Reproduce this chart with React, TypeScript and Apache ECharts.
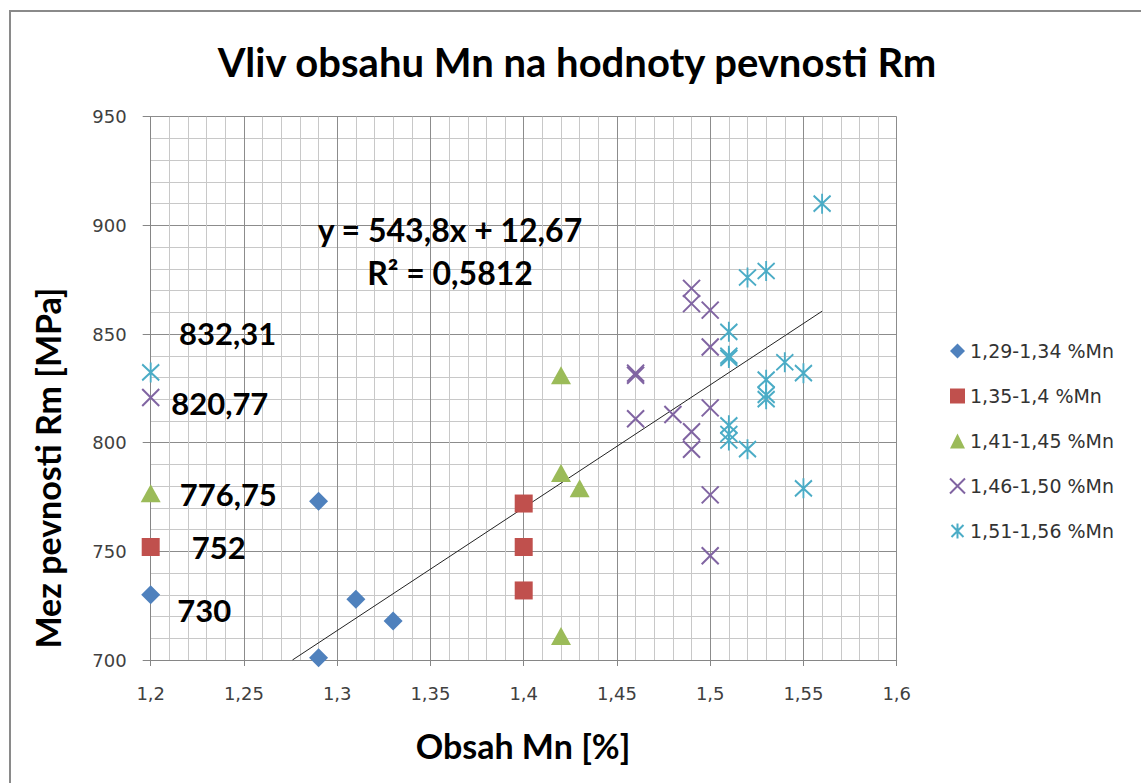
import React, { useEffect, useRef } from "react";
import * as echarts from "echarts";

// ---- data ----
const seriesNames = ["1,29-1,34 %Mn", "1,35-1,4 %Mn", "1,41-1,45 %Mn", "1,46-1,50 %Mn", "1,51-1,56 %Mn"];

const s1X = [1.2, 1.29, 1.31, 1.33, 1.29];
const s1Y = [730, 773, 728, 718, 701];

const s2X = [1.2, 1.4, 1.4, 1.4];
const s2Y = [752, 772, 752, 732];

const s3X = [1.2, 1.42, 1.42, 1.43, 1.42];
const s3Y = [776.75, 831, 786, 779, 711];

const s4X = [1.2, 1.49, 1.49, 1.5, 1.5, 1.46, 1.46, 1.46, 1.48, 1.5, 1.49, 1.49, 1.5, 1.5];
const s4Y = [820.77, 871, 864, 861, 844, 831, 832, 811, 813, 816, 805, 797, 776, 748];

const s5X = [1.2, 1.56, 1.52, 1.53, 1.51, 1.51, 1.51, 1.54, 1.55, 1.53, 1.53, 1.53, 1.51, 1.51, 1.51, 1.52, 1.55];
const s5Y = [832.31, 910, 876, 879, 851, 840, 839, 837, 832, 829, 822, 820, 808, 804, 801, 797, 779];

// trend line end points
const trendX = [1.276, 1.56];
const trendY = [700, 860.5];

const titleText = "Vliv obsahu Mn na hodnoty pevnosti Rm";
const xAxisTitle = "Obsah Mn [%]";
const yAxisTitle = "Mez pevnosti Rm [MPa]";
const equationText = "y = 543,8x + 12,67";
const r2Text = "R² = 0,5812";

const xMin = 1.2, xMax = 1.6, xStep = 0.05;
const yMin = 700, yMax = 950, yStep = 50;

// ---- styles ----
const colors = ["#4F81BD", "#C0504D", "#9BBB59", "#8064A2", "#4BACC6"];
const DIAMOND = "path://M10,0L20,10L10,20L0,10Z";
const XMARK = "path://M0,0L16,16M16,0L0,16";
const STAR = "path://M0,2L16,18M16,2L0,18M8,0L8,20";

const labelOffsets: number[][] = [
  [12, 15],
  [27, 0],
  [14, 1],
  [6, 5],
  [14, -39],
];

function fmt(v: number) {
  return String(v).replace(".", ",");
}

function pairs(xs: number[], ys: number[], idx: number) {
  return xs.map((x, i) => {
    if (i === 0) {
      return {
        value: [x, ys[i]],
        label: {
          show: true,
          position: "right",
          offset: labelOffsets[idx],
          formatter: fmt(ys[i]),
          fontFamily: "Lato",
          fontWeight: "bold",
          fontSize: 31,
          color: "#000",
          opacity: 1,
        },
      };
    }
    return { value: [x, ys[i]] };
  });
}

function textEl(text: string, x: number, y: number, size: number, rotation = 0) {
  return {
    type: "text",
    x,
    y,
    rotation,
    z: 100,
    style: {
      text,
      fontFamily: "Lato",
      fontWeight: "bold",
      fontSize: size,
      fill: "#000",
      textAlign: "center",
      textVerticalAlign: "middle",
    },
  };
}

export default function App() {
  const ref = useRef<HTMLDivElement>(null);
  useEffect(() => {
    if (!ref.current) return;
    const chart = echarts.init(ref.current, null, { renderer: "svg" });
    const xsAll = [s1X, s2X, s3X, s4X, s5X];
    const ysAll = [s1Y, s2Y, s3Y, s4Y, s5Y];
    const symbols = [DIAMOND, "rect", "triangle", XMARK, STAR];
    const sizes: any[] = [19, 18, [20, 18], 17, [17, 20]];
    const scatter = seriesNames.map((name, i) => {
      const stroked = i >= 3;
      return {
        name,
        type: "scatter",
        symbol: symbols[i],
        symbolSize: sizes[i],
        data: pairs(xsAll[i], ysAll[i], i),
        itemStyle: stroked
          ? { color: "rgba(0,0,0,0)", borderColor: colors[i], borderWidth: 2, opacity: 1 }
          : { color: colors[i], borderColor: colors[i], borderWidth: 0, opacity: 1 },
        z: 3,
      };
    });
    const option: any = {
      animation: false,
      backgroundColor: "#fff",
      grid: { left: 150.7, right: 244.3, top: 116.7, bottom: 123, containLabel: false },
      xAxis: {
        type: "value",
        min: xMin,
        max: xMax,
        interval: xStep,
        axisLine: { show: true, lineStyle: { color: "#868686", width: 1 } },
        axisTick: { show: true, length: 6, lineStyle: { color: "#868686" } },
        axisLabel: {
          formatter: (v: number) => fmt(Math.round(v * 100) / 100),
          fontFamily: "DejaVu Sans",
          fontSize: 18,
          color: "#404040",
          margin: 24,
        },
        splitLine: { show: true, lineStyle: { color: "#8c8c8c", width: 1 } },
        minorTick: { show: false, splitNumber: 5 },
        minorSplitLine: { show: true, lineStyle: { color: "#c8c8c8", width: 1 } },
      },
      yAxis: {
        type: "value",
        min: yMin,
        max: yMax,
        interval: yStep,
        axisLine: { show: true, lineStyle: { color: "#868686", width: 1 } },
        axisTick: { show: true, length: 8, lineStyle: { color: "#868686" } },
        axisLabel: {
          fontFamily: "DejaVu Sans",
          fontSize: 18,
          color: "#404040",
          margin: 24,
        },
        splitLine: { show: true, lineStyle: { color: "#8c8c8c", width: 1 } },
        minorTick: { show: false, splitNumber: 5 },
        minorSplitLine: { show: true, lineStyle: { color: "#c8c8c8", width: 1 } },
      },
      legend: {
        orient: "vertical",
        left: 944,
        top: 336,
        itemWidth: 15,
        itemHeight: 15,
        itemGap: 25,
        data: seriesNames,
        textStyle: { fontFamily: "DejaVu Sans", fontSize: 19, color: "#333", lineHeight: 20 },
      },
      series: [
        {
          name: "trend",
          type: "line",
          data: trendX.map((x, i) => [x, trendY[i]]),
          symbol: "none",
          lineStyle: { color: "#222", width: 1 },
          z: 2,
          silent: true,
        },
        ...scatter,
      ],
      graphic: [
        {
          type: "rect",
          shape: { x: 10, y: 11, width: 1200, height: 900 },
          style: { fill: "none", stroke: "#8a8a8a", lineWidth: 2 },
          silent: true,
        },
        textEl(titleText, 577, 62, 40),
        textEl(equationText, 450, 229, 32),
        textEl(r2Text, 450, 272, 32),
        textEl(xAxisTitle, 523, 745, 34),
        textEl(yAxisTitle, 47, 468, 34, Math.PI / 2),
      ],
    };
    chart.setOption(option);
    return () => chart.dispose();
  }, []);
  return (
    <div
      ref={ref}
      style={{ position: "fixed", left: 0, top: 0, width: 1141, height: 783, background: "#fff" }}
    />
  );
}
